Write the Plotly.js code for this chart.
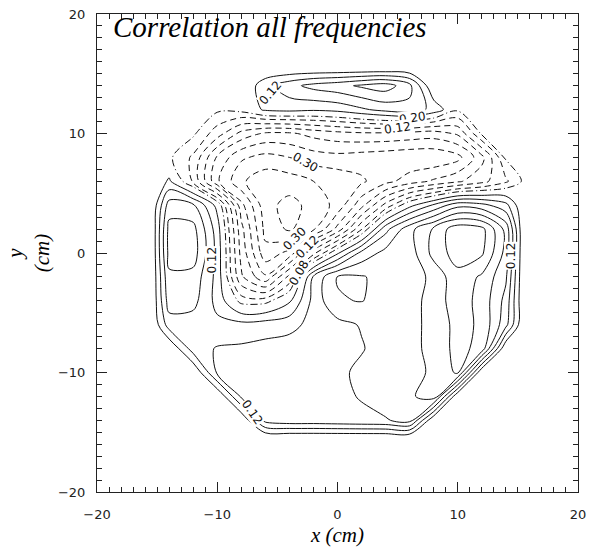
<!DOCTYPE html>
<html><head><meta charset="utf-8">
<script src="https://cdn.plot.ly/plotly-3.0.1.min.js"></script>
<style>html,body{margin:0;padding:0;background:#fff}#chart{width:602px;height:552px}</style>
</head><body><div id="chart"></div>
<script>
// grid positions (cm)
const xCm = [-15.5,-14,-12,-10,-8,-6,-4,-2,0,2,4,6,8,10,12,14,15.5];
const yCm = [15.5,14,12,10,8,6,4,2,0,-2,-4,-6,-8,-10,-12,-14,-15.5];
// correlation values, rows from top (y=15.5) to bottom (y=-15.5)
const corr = [
 [0,0,0,0,0,0,0,0,0,0,0,0,0,0,0,0,0],
 [0,0,0,0,0,0.10,0.16,0.20,0.22,0.25,0.27,0.20,0,0,0,0,0],
 [0,0,0,0,0.01,0.07,0.08,0.07,0.08,0.11,0.14,0.16,0.10,0,0,0,0],
 [0,0,0,-0.09,-0.20,-0.25,-0.25,-0.22,-0.20,-0.19,-0.19,-0.20,-0.21,-0.17,0,0,0],
 [0,0,-0.07,-0.25,-0.35,-0.38,-0.36,-0.33,-0.32,-0.33,-0.34,-0.35,-0.35,-0.32,-0.20,0,0],
 [0,0.07,-0.07,-0.29,-0.41,-0.46,-0.45,-0.42,-0.40,-0.37,-0.32,-0.27,-0.23,-0.19,-0.14,-0.07,0],
 [0,0.21,0.19,0.04,-0.28,-0.46,-0.50,-0.46,-0.40,-0.26,-0.10,0.04,0.13,0.22,0.20,0.14,0],
 [0,0.26,0.26,0.09,-0.22,-0.44,-0.49,-0.43,-0.28,-0.065,0.16,0.28,0.37,0.46,0.44,0.28,0],
 [0,0.26,0.27,0.10,-0.20,-0.40,-0.34,-0.14,0.05,0.20,0.26,0.27,0.38,0.45,0.43,0.28,0],
 [0,0.23,0.22,0.10,-0.17,-0.29,-0.10,0.19,0.303,0.305,0.28,0.26,0.32,0.40,0.35,0.25,0],
 [0,0.21,0.20,0.10,-0.03,-0.03,0.05,0.20,0.296,0.302,0.28,0.27,0.33,0.39,0.34,0.22,0],
 [0,0.15,0.15,0.135,0.14,0.15,0.16,0.20,0.22,0.245,0.27,0.28,0.32,0.38,0.35,0.20,0],
 [0,0,0.15,0.185,0.19,0.20,0.21,0.21,0.22,0.235,0.27,0.28,0.32,0.38,0.34,0,0],
 [0,0,0,0.19,0.20,0.21,0.22,0.22,0.225,0.255,0.27,0.28,0.31,0.37,0,0,0],
 [0,0,0,0,0.19,0.21,0.22,0.225,0.23,0.243,0.27,0.29,0.33,0,0,0,0],
 [0,0,0,0,0,0.20,0.22,0.22,0.225,0.23,0.235,0.26,0,0,0,0,0],
 [0,0,0,0,0,0,0,0,0,0,0,0,0,0,0,0,0]
];
// contour levels
const positiveLevels = [0.06, 0.48, 0.06];   // start, end, step
const negativeLevels = [-0.48, -0.06, 0.06];
const zeroLevel = [-0.01];
// contour labels
const labelText = ['0.12','0.12','0.20','0.12','0.30','0.30','0.12','0.08','0.12','0.12'];
const labelX = [-10.4,-5.6,6.2,5.0,-2.7,-3.6,-2.5,-3.2,-7.1,14.5];
const labelY = [-0.6,13.4,11.3,10.5,7.6,1.2,0.5,-1.7,-13.3,-0.2];
const labelAngle = [-90,-50,-8,-8,30,-45,-45,-60,55,-90];

const yAsc = yCm.slice().reverse();
const zAsc = corr.slice().reverse();

function ctr(lv, dash){
  return {type:'contour', x:xCm, y:yAsc, z:zAsc, autocontour:false,
    contours:{coloring:'none', start:lv[0], end:lv.length>1?lv[1]:lv[0], size:lv.length>2?lv[2]:1, showlabels:false},
    line:{color:'#111', width:1, dash:dash, smoothing:0.9},
    showscale:false, hoverinfo:'skip'};
}
const traces = [
  ctr(positiveLevels,'solid'),
  ctr(negativeLevels,'6px,4px'),
  ctr(zeroLevel,'7px,3px,1px,3px')
];

const annotations = labelText.map((t,i)=>({x:labelX[i], y:labelY[i], xref:'x', yref:'y', text:t,
  textangle:labelAngle[i], showarrow:false, bgcolor:'#fff', borderpad:0,
  font:{family:'DejaVu Sans', size:12, color:'#111'}}));

const axisBase = {range:[-20,20], dtick:10, tick0:0, ticks:'inside', ticklen:10, tickwidth:1, tickcolor:'#222',
  minor:{dtick:1, ticks:'inside', ticklen:5, tickwidth:1, tickcolor:'#222'},
  showline:true, linecolor:'#222', linewidth:1, mirror:'ticks', showgrid:false, zeroline:false,
  tickfont:{family:'DejaVu Sans', size:13, color:'#222'}};

const layout = {
  width:602, height:552, paper_bgcolor:'#fff', plot_bgcolor:'#fff',
  margin:{l:97, r:24, t:14, b:60},
  showlegend:false,
  title:{text:'<i>Correlation all frequencies</i>', font:{family:'Liberation Serif', size:29, color:'#000'},
    x:113/602, xanchor:'left', xref:'container', y:1-27/552, yanchor:'middle', yref:'container'},
  xaxis:Object.assign({}, axisBase, {ticklabelstandoff:10,
    title:{text:'<i>x (cm)</i>', font:{family:'Liberation Serif', size:21, color:'#000'}, standoff:6}}),
  yaxis:Object.assign({}, axisBase, {ticklabelstandoff:8,
    title:{text:'<i>y</i><br><i>(cm)</i>', font:{family:'Liberation Serif', size:21, color:'#000'}, standoff:2}}),
  annotations:annotations
};
Plotly.newPlot('chart', traces, layout, {staticPlot:true, displayModeBar:false});
</script></body></html>
